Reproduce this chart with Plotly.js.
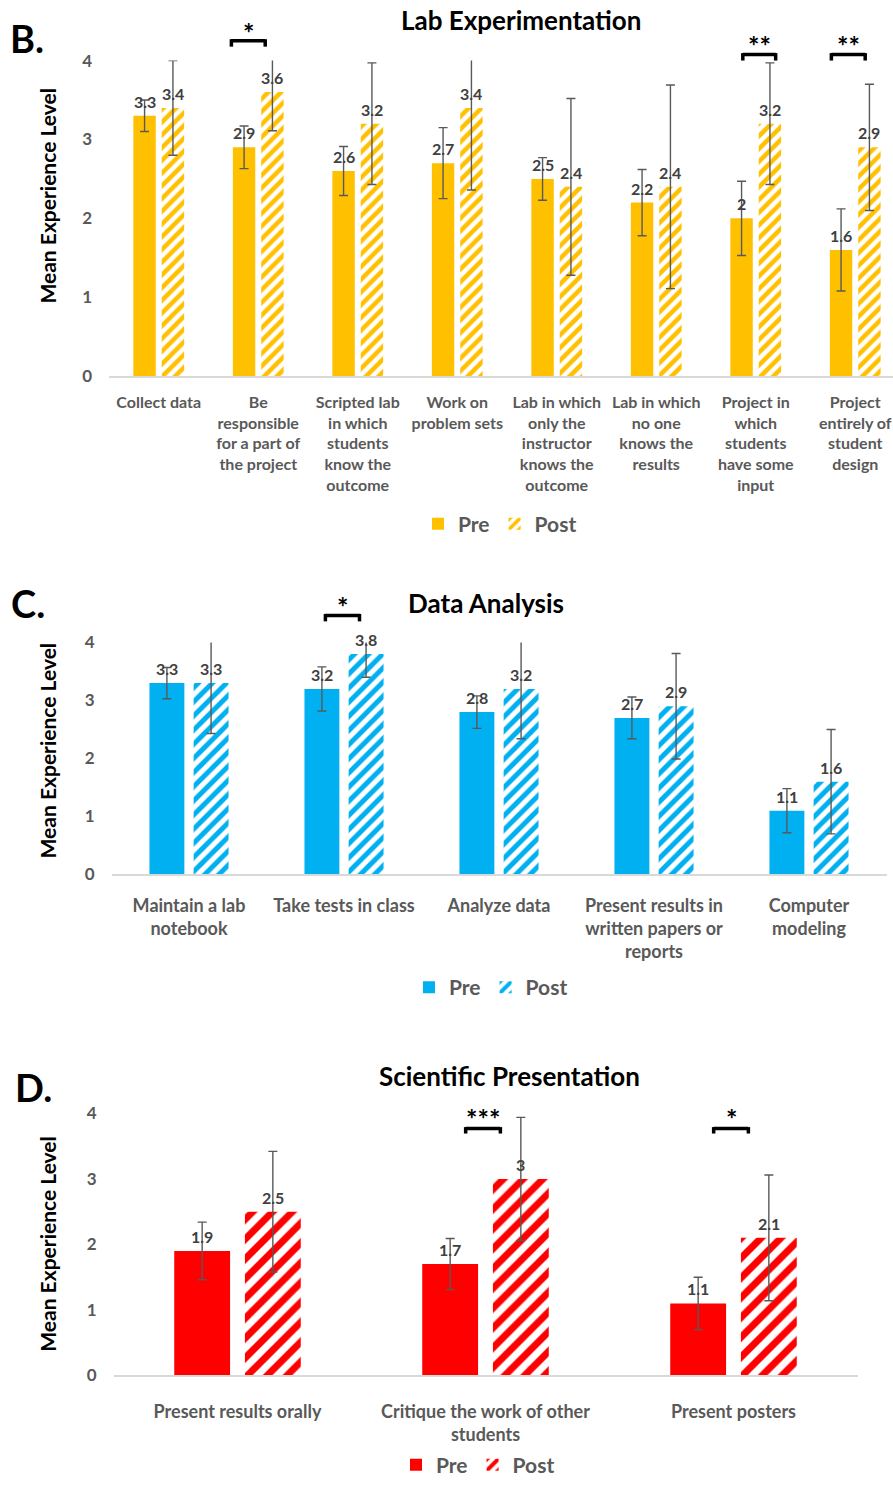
<!DOCTYPE html>
<html><head><meta charset="utf-8">
<script src="https://cdn.plot.ly/plotly-3.0.1.min.js"></script>
<style>html,body{margin:0;padding:0;background:#fff}#chart{width:893px;height:1486px}</style>
</head><body><div id="chart"></div>
<script>
// ---------------- DATA ----------------
const seriesNames = ['Pre', 'Post'];
const yTicks = [0, 1, 2, 3, 4];

const labCategories = [
  'Collect data',
  'Be<br>responsible<br>for a part of<br>the project',
  'Scripted lab<br>in which<br>students<br>know the<br>outcome',
  'Work on<br>problem sets',
  'Lab in which<br>only the<br>instructor<br>knows the<br>outcome',
  'Lab in which<br>no one<br>knows the<br>results',
  'Project in<br>which<br>students<br>have some<br>input',
  'Project<br>entirely of<br>student<br>design'
];
const labPre = [3.3, 2.9, 2.6, 2.7, 2.5, 2.2, 2, 1.6];
const labPost = [3.4, 3.6, 3.2, 3.4, 2.4, 2.4, 3.2, 2.9];
const labPreErr = [0.2, 0.27, 0.31, 0.45, 0.27, 0.42, 0.47, 0.52];
const labPostErr = [0.6, 0.49, 0.77, 1.04, 1.12, 1.29, 0.77, 0.8];
const labSig = [{cat: 1, mark: '*'}, {cat: 6, mark: '**'}, {cat: 7, mark: '**'}];

const dataCategories = [
  'Maintain a lab<br>notebook',
  'Take tests in class',
  'Analyze data',
  'Present results in<br>written papers or<br>reports',
  'Computer<br>modeling'
];
const dataPre = [3.3, 3.2, 2.8, 2.7, 1.1];
const dataPost = [3.3, 3.8, 3.2, 2.9, 1.6];
const dataPreErr = [0.27, 0.38, 0.28, 0.36, 0.38];
const dataPostErr = [0.87, 0.4, 0.86, 0.91, 0.9];
const dataSig = [{cat: 1, mark: '*'}];

const presCategories = [
  'Present results orally',
  'Critique the work of other<br>students',
  'Present posters'
];
const presPre = [1.9, 1.7, 1.1];
const presPost = [2.5, 3, 2.1];
const presPreErr = [0.44, 0.39, 0.4];
const presPostErr = [0.92, 0.94, 0.96];
const presSig = [{cat: 1, mark: '***'}, {cat: 2, mark: '*'}];

// ---------------- LAYOUT HELPERS ----------------
const W = 893, H = 1486;
const px = p => p / W;
const py = p => 1 - p / H;
const FONT = 'Lato, "Open Sans", sans-serif';
const GRAY = '#595959';
const LABEL = '#404040';
const BARGAP = 0.43, BARGROUPGAP = 0.21;

const panels = [
  {cats: labCategories, pre: labPre, post: labPost, preErr: labPreErr, postErr: labPostErr, sig: labSig,
   color: '#FFC000', xa: 'x', ya: 'y', legend: 'legend', pat: 9,
   xDom: [109, 893], catPx: 99.5, yDom: [379, 61], tickSize: 16, tickStand: 11,
   title: 'Lab Experimentation', titlePos: [521, 20], letter: 'B.', letterPos: [27, 38], yTitle: [48, 198],
   legendPos: [500, 528],
   brackets: [{x0: -0.27, x1: 0.07, top: 41, leg: 47, star: 27},
              {x0: -0.13, x1: 0.2, top: 55, leg: 61, star: 40},
              {x0: -0.24, x1: 0.1, top: 55, leg: 61, star: 40}]},
  {cats: dataCategories, pre: dataPre, post: dataPost, preErr: dataPreErr, postErr: dataPostErr, sig: dataSig,
   color: '#00B0F0', xa: 'x2', ya: 'y2', legend: 'legend2', pat: 10,
   xDom: [111.5, 886.5], catPx: 155, yDom: [881, 647.3], tickSize: 18, tickStand: 14,
   title: 'Data Analysis', titlePos: [486, 607], letter: 'C.', letterPos: [28, 608], yTitle: [47, 757],
   legendPos: [491, 995],
   brackets: [{x0: -0.12, x1: 0.1, top: 620, leg: 626, star: 605}]},
  {cats: presCategories, pre: presPre, post: presPost, preErr: presPreErr, postErr: presPostErr, sig: presSig,
   color: '#FF0000', xa: 'x3', ya: 'y3', legend: 'legend3', pat: 14,
   xDom: [113.5, 857.5], catPx: 248, yDom: [1385.7, 1121.7], tickSize: 18, tickStand: 19,
   title: 'Scientific Presentation', titlePos: [509, 1084], letter: 'D.', letterPos: [33, 1095], yTitle: [48, 1254],
   legendPos: [478, 1476],
   brackets: [{x0: -0.08, x1: 0.06, top: 1137, leg: 1142, star: 1121},
              {x0: -0.08, x1: 0.06, top: 1137, leg: 1142, star: 1121}]}
];

const traces = [];
const annotations = [];
const shapes = [];
const layout = {
  width: W, height: H, margin: {l: 0, r: 0, t: 0, b: 0},
  paper_bgcolor: '#fff', plot_bgcolor: 'rgba(0,0,0,0)',
  barmode: 'group', bargap: BARGAP, bargroupgap: BARGROUPGAP,
  font: {family: FONT, color: GRAY},
  showlegend: true
};

panels.forEach((p, k) => {
  const sfx = k === 0 ? '' : String(k + 1);
  const nCatSpan = (p.xDom[1] - p.xDom[0]) / p.catPx;
  layout['xaxis' + sfx] = {
    domain: [px(p.xDom[0]), px(p.xDom[1])], anchor: p.ya, type: 'category',
    range: [-0.5, -0.5 + nCatSpan], fixedrange: true,
    showline: true, linecolor: '#d9d9d9', linewidth: 1.5, showgrid: false, zeroline: false, ticks: '',
    ticklabelstandoff: p.tickStand,
    tickfont: {family: FONT, size: p.tickSize, color: GRAY, weight: 'bold'}, automargin: false
  };
  layout['yaxis' + sfx] = {
    domain: [py(p.yDom[0]), py(p.yDom[1])], anchor: p.xa, range: [0, 4], fixedrange: true,
    tickvals: yTicks, showgrid: false, zeroline: false, showline: false, ticks: '',
    ticklabelstandoff: 16,
    tickfont: {family: FONT, size: 17, color: GRAY, weight: 'bold'}, automargin: false
  };
  layout[p.legend] = {
    orientation: 'h', x: px(p.legendPos[0]), xanchor: 'center', y: py(p.legendPos[1]), yanchor: 'middle',
    font: {family: FONT, size: 21, color: GRAY, weight: 'bold'}, bgcolor: 'rgba(0,0,0,0)',
    itemwidth: 30, traceorder: 'normal'
  };
  const errStyle = {type: 'data', visible: true, color: GRAY, thickness: 1.4, width: 4.5};
  traces.push({
    type: 'bar', name: seriesNames[0], x: p.cats, y: p.pre, xaxis: p.xa, yaxis: p.ya, legend: p.legend,
    marker: {color: p.color, line: {width: 0}},
    error_y: Object.assign({array: p.preErr}, errStyle), hoverinfo: 'skip'
  });
  traces.push({
    type: 'bar', name: seriesNames[1], x: p.cats, y: p.post, xaxis: p.xa, yaxis: p.ya, legend: p.legend,
    marker: {color: p.color, line: {width: 0},
      pattern: {shape: '/', fgcolor: p.color, bgcolor: '#ffffff', size: p.pat, solidity: 0.5, fillmode: 'replace'}},
    error_y: Object.assign({array: p.postErr}, errStyle), hoverinfo: 'skip'
  });
  // value labels
  const shift = (1 - BARGAP) / 4 * p.catPx;
  [p.pre, p.post].forEach((vals, s) => {
    vals.forEach((v, i) => {
      annotations.push({
        xref: p.xa, yref: p.ya, x: i, y: v, xshift: s === 0 ? -shift : shift, yshift: 3,
        yanchor: 'bottom', xanchor: 'center', showarrow: false, text: String(v),
        font: {family: FONT, size: 16, color: LABEL, weight: 'bold'}
      });
    });
  });
  // titles
  annotations.push({xref: 'paper', yref: 'paper', x: px(p.titlePos[0]), y: py(p.titlePos[1]),
    xanchor: 'center', yanchor: 'middle', showarrow: false, text: p.title,
    font: {family: FONT, size: 26, color: '#000', weight: 'bold'}});
  annotations.push({xref: 'paper', yref: 'paper', x: px(p.letterPos[0]), y: py(p.letterPos[1]),
    xanchor: 'center', yanchor: 'middle', showarrow: false, text: p.letter,
    font: {family: FONT, size: 38, color: '#000', weight: 'bold'}});
  annotations.push({xref: 'paper', yref: 'paper', x: px(p.yTitle[0]), y: py(p.yTitle[1]),
    xanchor: 'center', yanchor: 'middle', showarrow: false, text: 'Mean Experience Level', textangle: -90,
    font: {family: FONT, size: 21, color: '#000', weight: 'bold'}});
  // significance brackets
  p.sig.forEach((sg, j) => {
    const b = p.brackets[j];
    const x0 = sg.cat + b.x0, x1 = sg.cat + b.x1;
    const ln = {color: '#000', width: 3.5};
    shapes.push({type: 'line', xref: p.xa, yref: 'paper', x0: x0, x1: x1, y0: py(b.top), y1: py(b.top), line: ln});
    shapes.push({type: 'line', xref: p.xa, yref: 'paper', x0: x0, x1: x0, y0: py(b.top - 1.5), y1: py(b.leg), line: ln});
    shapes.push({type: 'line', xref: p.xa, yref: 'paper', x0: x1, x1: x1, y0: py(b.top - 1.5), y1: py(b.leg), line: ln});
    annotations.push({xref: p.xa, yref: 'paper', x: (x0 + x1) / 2, y: py(b.star + 6), xanchor: 'center', yanchor: 'middle',
      showarrow: false, text: sg.mark, font: {family: FONT, size: 27, color: '#000', weight: 'bold'}});
  });
});
layout.annotations = annotations;
layout.shapes = shapes;

Plotly.newPlot('chart', traces, layout, {staticPlot: true, displayModeBar: false});
</script>
</body></html>
